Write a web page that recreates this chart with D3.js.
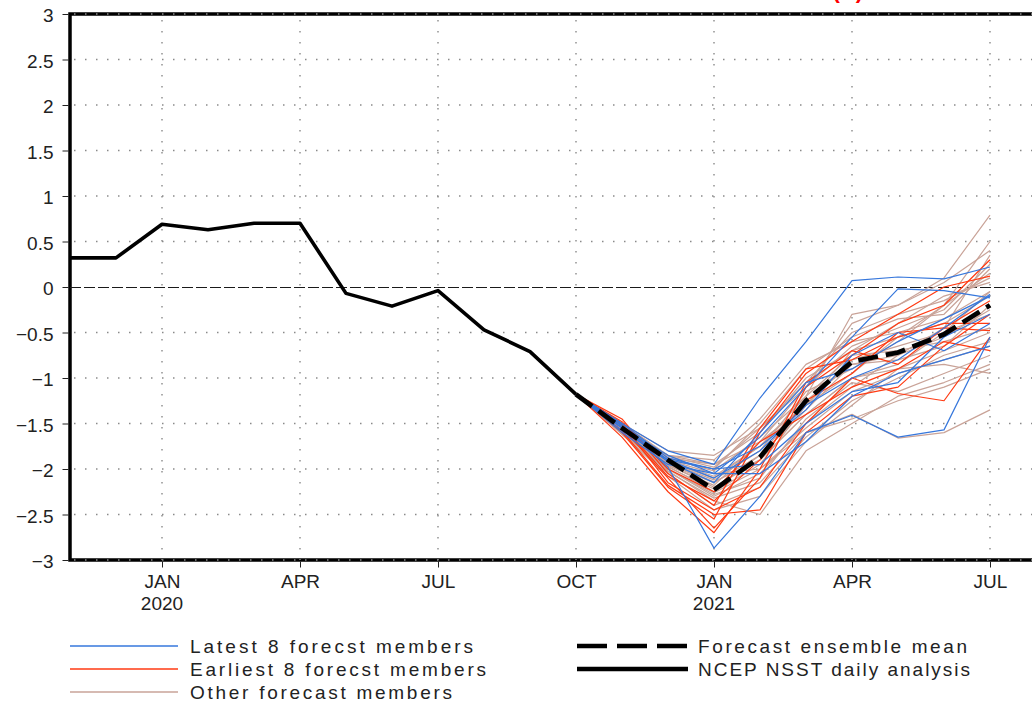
<!DOCTYPE html>
<html>
<head>
<meta charset="utf-8">
<script src="https://cdn.jsdelivr.net/npm/d3@7"></script>
<style>
  html, body { margin: 0; padding: 0; background: #fff; }
  svg { display: block; }
  text { font-family: "Liberation Sans", Arial, sans-serif; fill: #222; }
</style>
</head>
<body>
<svg id="chart" width="1032" height="704"></svg>
<script>
// ---- Data ----------------------------------------------------------------
// Month index 0 = Nov 2019, 20 = Jul 2021
const yTicks = [-3, -2.5, -2, -1.5, -1, -0.5, 0, 0.5, 1, 1.5, 2, 2.5, 3];
const monthTickIdx = [2, 5, 8, 11, 14, 17, 20];
const monthTickLabels = ["JAN", "APR", "JUL", "OCT", "JAN", "APR", "JUL"];
const yearTickLabels = ["2020", "", "", "", "2021", "", ""];

// NCEP NSST daily analysis (monthly), Nov 2019 .. Oct 2020
const obsStart = 0;
const obsValues = [0.32, 0.32, 0.69, 0.63, 0.70, 0.70, -0.07, -0.21, -0.04, -0.47, -0.71, -1.18];

// Forecasts start from the Oct 2020 analysis value (index 11), then Nov 2020 .. Jul 2021
const fcstStart = 11;
const fcstOrigin = -1.18;
const ensembleMean = [-1.18, -1.55, -1.90, -2.23, -1.87, -1.25, -0.82, -0.72, -0.52, -0.20];

const latestMembers = [
  [-1.50, -1.80, -1.95, -1.22, -0.60, 0.07, 0.11, 0.09, 0.22],
  [-1.52, -1.98, -2.87, -2.30, -1.60, -1.41, -1.65, -1.57, -0.55],
  [-1.55, -1.85, -2.05, -1.65, -1.10, -0.55, -0.02, -0.04, -0.12],
  [-1.58, -1.90, -2.10, -1.80, -1.30, -1.00, -0.80, -0.45, -0.08],
  [-1.50, -1.88, -2.00, -1.95, -1.50, -1.15, -1.05, -0.55, -0.30],
  [-1.55, -1.92, -2.15, -1.60, -1.05, -0.90, -0.60, -0.35, -0.10],
  [-1.60, -1.95, -2.05, -2.05, -1.70, -1.20, -0.95, -0.80, -0.65],
  [-1.53, -1.90, -2.00, -1.75, -1.35, -0.75, -0.50, -0.70, -0.40]
];
const earliestMembers = [
  [-1.55, -2.10, -2.65, -2.10, -1.10, -0.75, -0.40, -0.20, 0.30],
  [-1.60, -2.20, -2.55, -1.60, -0.95, -0.60, -0.30, 0.00, 0.12],
  [-1.45, -2.05, -2.40, -1.55, -0.90, -0.80, -0.55, -0.40, -0.40],
  [-1.50, -2.15, -2.45, -2.20, -1.50, -1.00, -1.17, -1.25, -0.55],
  [-1.65, -2.25, -2.70, -2.00, -1.05, -0.70, -0.85, -0.45, -0.15],
  [-1.48, -2.00, -2.25, -1.70, -1.40, -1.10, -0.90, -0.60, -0.70],
  [-1.58, -2.18, -2.50, -2.45, -1.60, -1.20, -1.10, -0.65, -0.30],
  [-1.52, -2.08, -2.35, -1.90, -1.25, -0.95, -0.50, -0.45, -0.48]
];
const otherMembers = [
  [-1.50, -1.80, -1.85, -1.55, -1.10, -0.40, -0.20, 0.10, 0.79],
  [-1.55, -1.85, -1.95, -1.70, -1.30, -0.95, -0.55, -0.20, 0.50],
  [-1.52, -1.90, -2.05, -2.00, -1.60, -1.40, -1.66, -1.60, -1.35],
  [-1.58, -1.95, -2.20, -1.90, -1.40, -1.00, -0.90, -0.85, -0.95],
  [-1.60, -2.00, -2.30, -2.05, -1.50, -1.10, -0.75, -0.45, 0.35],
  [-1.55, -1.92, -2.10, -1.75, -1.20, -0.30, -0.20, 0.05, 0.40],
  [-1.50, -1.88, -1.95, -1.60, -1.00, -0.70, -0.40, -0.10, 0.05],
  [-1.62, -2.05, -2.40, -2.20, -1.65, -1.25, -1.00, -0.75, -0.60],
  [-1.57, -1.95, -2.15, -1.85, -1.35, -0.85, -0.75, -0.55, -0.25],
  [-1.53, -1.90, -2.00, -1.50, -0.90, -0.55, -0.35, -0.30, 0.20],
  [-1.60, -2.02, -2.35, -2.50, -1.80, -1.50, -1.20, -1.05, -0.85],
  [-1.55, -1.97, -2.25, -1.95, -1.30, -0.80, -0.65, -0.50, -0.30],
  [-1.50, -1.85, -1.90, -1.45, -0.85, -0.60, -0.50, -0.35, -0.05],
  [-1.58, -2.00, -2.28, -2.10, -1.45, -1.05, -1.15, -0.95, -0.75],
  [-1.54, -1.93, -2.12, -1.80, -1.15, -0.90, -0.60, -0.20, 0.15],
  [-1.62, -2.08, -2.45, -2.30, -1.70, -1.30, -0.90, -0.70, -0.50],
  [-1.52, -1.88, -2.02, -1.65, -1.20, -0.75, -0.70, -0.60, -0.45],
  [-1.56, -1.96, -2.18, -1.70, -1.10, -0.65, -0.45, -0.25, 0.25],
  [-1.59, -2.00, -2.26, -2.00, -1.55, -1.15, -0.95, -0.80, -0.65],
  [-1.51, -1.86, -1.98, -1.55, -1.05, -0.50, -0.30, -0.15, 0.10],
  [-1.57, -1.98, -2.22, -1.85, -1.25, -0.85, -0.80, -0.65, -0.20],
  [-1.60, -2.03, -2.32, -2.15, -1.60, -1.45, -1.25, -1.10, -0.90],
  [-1.53, -1.91, -2.08, -1.75, -1.30, -0.70, -0.55, -0.40, -0.10],
  [-1.55, -1.94, -2.14, -1.90, -1.40, -1.00, -0.85, -0.50, -0.05]
];

// ---- Styles ----------------------------------------------------------------
const colLatest = "#3677dc";
const colEarliest = "#ff3a12";
const colOther = "#c9a398";

// ---- Drawing ---------------------------------------------------------------
(function draw() {
  const svg = d3.select("#chart");
  const pLeft = 70, pTop = 14, pBottom = 560, pRight = 1036;

  const x = d3.scaleLinear().domain([0, 21]).range([pLeft, pRight]);
  const y = d3.scaleLinear().domain([-3, 3]).range([pBottom, pTop]);

  // Title (sits mostly above the top edge of the page)
  svg.append("text")
    .attr("x", 863).attr("y", -2)
    .attr("text-anchor", "end")
    .style("font-size", "22px").style("font-weight", "bold")
    .style("fill", "#f00")
    .text("Niño3.4 SST anomalies (K)");

  // Frame
  svg.append("path")
    .attr("d", `M${pRight + 4},${pTop} H${pLeft} V${pBottom} H${pRight + 4}`)
    .attr("fill", "none").attr("stroke", "#000").attr("stroke-width", 3.5);

  // Axes
  const yAxis = d3.axisLeft(y)
    .tickValues(yTicks)
    .tickSize(6)
    .tickPadding(9)
    .tickFormat(d3.format("~g"));
  const gy = svg.append("g").attr("transform", `translate(${pLeft - 1.5},0)`).call(yAxis);
  gy.select(".domain").remove();
  gy.selectAll(".tick line").attr("stroke", "#222");
  gy.selectAll(".tick text").style("font-size", "19px").attr("dy", "0.42em")
    .style("font-family", "'Liberation Sans', Arial, sans-serif").attr("fill", "#222");

  const xAxis = d3.axisBottom(x)
    .tickValues(monthTickIdx)
    .tickSize(6)
    .tickPadding(7)
    .tickFormat((d, i) => monthTickLabels[i]);
  const gx = svg.append("g").attr("transform", `translate(0,${pBottom + 1.5})`).call(xAxis);
  gx.select(".domain").remove();
  gx.selectAll(".tick line").attr("stroke", "#222");
  gx.selectAll(".tick text").style("font-size", "19px")
    .style("font-family", "'Liberation Sans', Arial, sans-serif").attr("fill", "#222");

  svg.append("g").selectAll("text")
    .data(monthTickIdx.map((d, i) => ({ m: d, label: yearTickLabels[i] })).filter(d => d.label))
    .join("text")
    .attr("x", d => x(d.m)).attr("y", 610)
    .attr("text-anchor", "middle")
    .style("font-size", "19px")
    .text(d => d.label);

  // Dotted grid
  const grid = svg.append("g")
    .attr("stroke", "#8a8a8a").attr("stroke-width", 1.4)
    .attr("stroke-dasharray", "1.5,9.5");
  grid.selectAll("line.h").data(yTicks.filter(v => v !== 0)).join("line")
    .attr("class", "h")
    .attr("x1", pLeft + 4).attr("x2", pRight)
    .attr("y1", d => y(d)).attr("y2", d => y(d));
  grid.selectAll("line.v").data(monthTickIdx).join("line")
    .attr("class", "v")
    .attr("x1", d => x(d)).attr("x2", d => x(d))
    .attr("y1", pTop + 6).attr("y2", pBottom);

  // Zero line
  svg.append("line")
    .attr("x1", pLeft).attr("x2", pRight)
    .attr("y1", y(0) + 0.5).attr("y2", y(0) + 0.5)
    .attr("stroke", "#1a1a1a").attr("stroke-width", 1.2)
    .attr("stroke-dasharray", "11,3");

  // Forecast members
  const line = d3.line().x(d => x(d[0])).y(d => y(d[1]));
  const memberPoints = vals => [[fcstStart, fcstOrigin]].concat(vals.map((v, i) => [fcstStart + 1 + i, v]));

  function drawMembers(set, color) {
    svg.append("g").selectAll("path").data(set).join("path")
      .attr("d", d => line(memberPoints(d)))
      .attr("fill", "none").attr("stroke", color).attr("stroke-width", 1.2)
      .attr("stroke-linejoin", "round");
  }
  drawMembers(otherMembers, colOther);
  drawMembers(earliestMembers, colEarliest);
  drawMembers(latestMembers, colLatest);

  // Ensemble mean
  svg.append("path")
    .attr("d", line(ensembleMean.map((v, i) => [fcstStart + i, v])))
    .attr("fill", "none").attr("stroke", "#000").attr("stroke-width", 4.8)
    .attr("stroke-dasharray", "20,8");

  // Analysis
  svg.append("path")
    .attr("d", line(obsValues.map((v, i) => [obsStart + i, v])))
    .attr("fill", "none").attr("stroke", "#000").attr("stroke-width", 3.6)
    .attr("stroke-linejoin", "round");

  // Legend
  const legendItems = [
    { x1: 70, x2: 178, tx: 190, y: 646, color: colLatest, w: 1.3, dash: null, label: "Latest 8 forecst members", len: 283 },
    { x1: 70, x2: 178, tx: 190, y: 669, color: colEarliest, w: 1.3, dash: null, label: "Earliest 8 forecst members", len: 296 },
    { x1: 70, x2: 178, tx: 190, y: 692, color: colOther, w: 1.3, dash: null, label: "Other forecast members", len: 262 },
    { x1: 577, x2: 688, tx: 698, y: 646, color: "#000", w: 4.5, dash: "30,10", label: "Forecast ensemble mean", len: 269 },
    { x1: 577, x2: 688, tx: 698, y: 669, color: "#000", w: 4.5, dash: null, label: "NCEP NSST daily analysis", len: 272 }
  ];
  const lg = svg.append("g");
  lg.selectAll("line").data(legendItems).join("line")
    .attr("x1", d => d.x1).attr("x2", d => d.x2)
    .attr("y1", d => d.y).attr("y2", d => d.y)
    .attr("stroke", d => d.color).attr("stroke-width", d => d.w)
    .attr("stroke-dasharray", d => d.dash);
  lg.selectAll("text").data(legendItems).join("text")
    .attr("x", d => d.tx).attr("y", d => d.y + 7)
    .attr("textLength", d => d.len).attr("lengthAdjust", "spacing")
    .style("font-size", "19px")
    .text(d => d.label);
})();
</script>
</body>
</html>
